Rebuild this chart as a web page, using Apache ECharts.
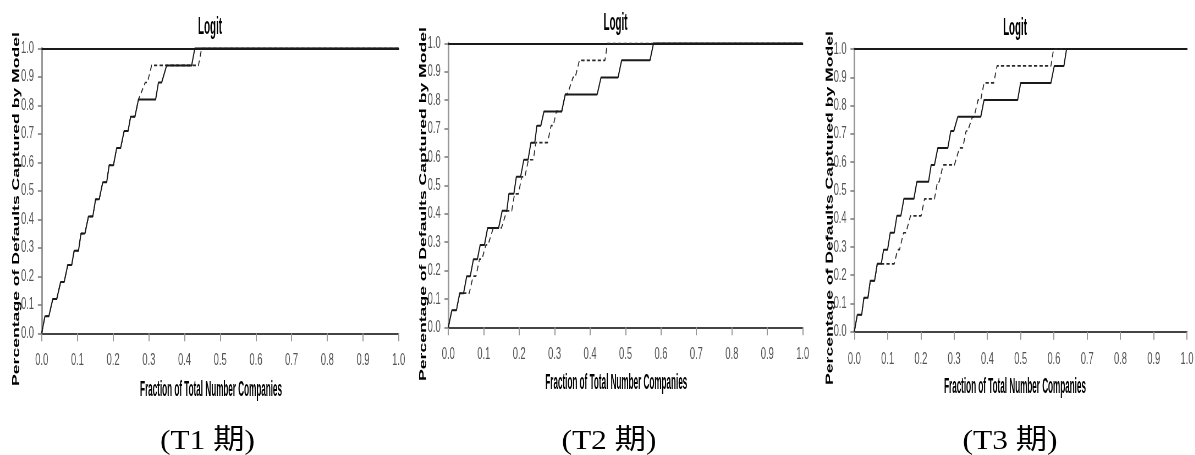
<!DOCTYPE html>
<html>
<head>
<meta charset="utf-8">
<script src="https://cdn.jsdelivr.net/npm/echarts@6/dist/echarts.min.js"></script>
<style>
  html, body { margin: 0; padding: 0; background: #fff; overflow: hidden; width: 1195px; height: 455px; }
  /* The panels are laid out on a wide canvas and squeezed horizontally, like a narrowed spreadsheet chart */
  #chart { width: 2173px; height: 455px; transform: scaleX(0.55); transform-origin: 0 0; }
</style>
</head>
<body>
<div id="chart"></div>
<script>
// Horizontal squeeze applied to the canvas (see CSS)
const SQUEEZE = 0.55;

const tickLabels = ['0.0', '0.1', '0.2', '0.3', '0.4', '0.5', '0.6', '0.7', '0.8', '0.9', '1.0'];
const panelTitles = ['Logit', 'Logit', 'Logit'];
const periodCaptions = ['(T1 期)', '(T2 期)', '(T3 期)'];
const xAxisTitle = 'Fraction of Total Number Companies';
const yAxisTitle = 'Percentage of Defaults Captured by Model';

// Cumulative accuracy profiles: [fraction of companies, fraction of defaults captured]
const t1Solid = [[0,0],[0.009,0.06],[0.020,0.06],[0.031,0.12],[0.042,0.12],[0.053,0.18],[0.063,0.18],[0.073,0.24],[0.084,0.24],[0.091,0.29],[0.103,0.29],[0.110,0.35],[0.121,0.35],[0.131,0.41],[0.143,0.41],[0.151,0.47],[0.161,0.47],[0.171,0.53],[0.182,0.53],[0.189,0.59],[0.201,0.59],[0.210,0.65],[0.221,0.65],[0.231,0.71],[0.242,0.71],[0.249,0.76],[0.261,0.76],[0.271,0.82],[0.319,0.82],[0.327,0.88],[0.336,0.88],[0.350,0.94],[0.420,0.94],[0.429,1.0],[1,1.0]];
const t1Dashed = [[0,0],[0.009,0.06],[0.020,0.06],[0.031,0.12],[0.042,0.12],[0.053,0.18],[0.063,0.18],[0.073,0.24],[0.084,0.24],[0.091,0.29],[0.103,0.29],[0.110,0.35],[0.121,0.35],[0.131,0.41],[0.143,0.41],[0.151,0.47],[0.161,0.47],[0.171,0.53],[0.182,0.53],[0.189,0.59],[0.201,0.59],[0.210,0.65],[0.221,0.65],[0.231,0.71],[0.242,0.71],[0.249,0.76],[0.261,0.76],[0.271,0.82],[0.290,0.88],[0.296,0.88],[0.308,0.94],[0.439,0.94],[0.448,1.0],[1,1.0]];

const t2Solid = [[0,0],[0.010,0.06],[0.023,0.06],[0.032,0.12],[0.043,0.12],[0.052,0.18],[0.062,0.18],[0.071,0.24],[0.082,0.24],[0.090,0.29],[0.102,0.29],[0.111,0.35],[0.142,0.35],[0.152,0.41],[0.165,0.41],[0.171,0.47],[0.185,0.47],[0.192,0.53],[0.204,0.53],[0.213,0.59],[0.225,0.59],[0.233,0.65],[0.244,0.65],[0.250,0.71],[0.261,0.71],[0.270,0.76],[0.320,0.76],[0.330,0.82],[0.420,0.82],[0.431,0.88],[0.479,0.88],[0.489,0.94],[0.569,0.94],[0.579,1.0],[1,1.0]];
const t2Dashed = [[0,0],[0.010,0.06],[0.022,0.06],[0.033,0.12],[0.059,0.12],[0.070,0.18],[0.078,0.18],[0.088,0.24],[0.095,0.24],[0.106,0.29],[0.112,0.29],[0.127,0.35],[0.150,0.35],[0.165,0.41],[0.179,0.41],[0.187,0.47],[0.198,0.47],[0.207,0.53],[0.216,0.53],[0.226,0.59],[0.240,0.59],[0.247,0.65],[0.280,0.65],[0.290,0.71],[0.296,0.71],[0.305,0.76],[0.320,0.76],[0.330,0.82],[0.336,0.82],[0.352,0.88],[0.358,0.88],[0.370,0.94],[0.442,0.94],[0.449,1.0],[1,1.0]];

const t3Solid = [[0,0],[0.009,0.06],[0.022,0.06],[0.029,0.12],[0.041,0.12],[0.048,0.18],[0.061,0.18],[0.069,0.24],[0.081,0.24],[0.088,0.29],[0.100,0.29],[0.108,0.35],[0.120,0.35],[0.128,0.41],[0.140,0.41],[0.149,0.47],[0.179,0.47],[0.188,0.53],[0.223,0.53],[0.231,0.59],[0.241,0.59],[0.251,0.65],[0.281,0.65],[0.290,0.71],[0.299,0.71],[0.311,0.76],[0.380,0.76],[0.390,0.82],[0.491,0.82],[0.500,0.88],[0.591,0.88],[0.601,0.94],[0.630,0.94],[0.638,1.0],[1,1.0]];
const t3Dashed = [[0,0],[0.009,0.06],[0.022,0.06],[0.029,0.12],[0.041,0.12],[0.048,0.18],[0.061,0.18],[0.069,0.24],[0.120,0.24],[0.130,0.29],[0.136,0.29],[0.148,0.35],[0.155,0.35],[0.169,0.41],[0.201,0.41],[0.211,0.47],[0.241,0.47],[0.250,0.53],[0.255,0.53],[0.267,0.59],[0.301,0.59],[0.316,0.65],[0.326,0.65],[0.336,0.71],[0.341,0.71],[0.355,0.76],[0.360,0.76],[0.372,0.82],[0.380,0.82],[0.390,0.88],[0.419,0.88],[0.429,0.94],[0.591,0.94],[0.599,1.0],[1,1.0]];

const panels = [
  { solid: t1Solid, dashed: t1Dashed },
  { solid: t2Solid, dashed: t2Dashed },
  { solid: t3Solid, dashed: t3Dashed }
];

// Layout (screen pixels, converted to canvas units below)
const gridBoxes = [
  { left: 41.7,  top: 48.3, width: 357.0, height: 285.0 },
  { left: 448.3, top: 43.3, width: 354.4, height: 284.0 },
  { left: 854.3, top: 49.0, width: 339.7, height: 282.7 }
];
const titlePos   = [[210, 27], [615.5, 23.5], [1015, 28]];
const xNamePos   = [[211, 390], [616.3, 383], [1015, 387.5]];
const yNamePos   = [[16.5, 209], [423.5, 204], [830, 208]];
const captionPos = [[207.5, 442], [609, 442], [1010, 442]];

const sx = v => v / SQUEEZE;
const labelOf = v => tickLabels[Math.round(v * 10)];
const sansFont = '"Liberation Sans", Arial, sans-serif';

const grid = [], xAxis = [], yAxis = [], series = [], graphic = [];

gridBoxes.forEach((b, i) => {
  grid.push({ left: sx(b.left), top: b.top, width: sx(b.width), height: b.height, containLabel: false });

  xAxis.push({
    type: 'value', gridIndex: i, min: 0, max: 1, interval: 0.1, position: 'bottom',
    axisLine: { show: true, onZero: false, lineStyle: { color: '#444', width: 2 } },
    axisTick: { show: true, inside: false, length: 8, lineStyle: { color: '#999', width: 2 } },
    axisLabel: { show: true, margin: 19, color: '#555', fontSize: 17, fontFamily: sansFont, formatter: labelOf },
    splitLine: { show: false }
  });
  // top rule of the plot at 100 %
  xAxis.push({
    type: 'value', gridIndex: i, min: 0, max: 1, position: 'top',
    axisLine: { show: true, onZero: false, lineStyle: { color: '#1a1a1a', width: 2 } },
    axisTick: { show: false }, axisLabel: { show: false }, splitLine: { show: false }
  });

  yAxis.push({
    type: 'value', gridIndex: i, min: 0, max: 1, interval: 0.1,
    axisLine: { show: true, onZero: false, lineStyle: { color: '#999', width: 3 } },
    axisTick: { show: true, length: 7, lineStyle: { color: '#777', width: 1.5 } },
    axisLabel: { show: true, margin: 14, color: '#555', fontSize: 17, fontFamily: sansFont, formatter: labelOf },
    splitLine: { show: false }
  });

  series.push({
    name: 'T' + (i + 1) + ' CAP B', type: 'line', xAxisIndex: i * 2, yAxisIndex: i,
    data: panels[i].dashed, symbol: 'none', showSymbol: false, z: 2, silent: true,
    lineStyle: { color: '#2a2a2a', width: 1.7, type: [6, 4] }
  });
  series.push({
    name: 'T' + (i + 1) + ' CAP A', type: 'line', xAxisIndex: i * 2, yAxisIndex: i,
    data: panels[i].solid, symbol: 'none', showSymbol: false, z: 3, silent: true,
    lineStyle: { color: '#1a1a1a', width: 2, type: 'solid' }
  });

  graphic.push({
    type: 'text', x: sx(titlePos[i][0]), y: titlePos[i][1], scaleX: 0.85, scaleY: 1.15,
    style: { text: panelTitles[i], fill: '#000', fontSize: 21, fontWeight: 'bold', fontFamily: sansFont,
             align: 'center', verticalAlign: 'middle', textAlign: 'center', textVerticalAlign: 'middle' }
  });
  graphic.push({
    type: 'text', x: sx(xNamePos[i][0]), y: xNamePos[i][1], scaleX: 0.82, scaleY: 1.2,
    style: { text: xAxisTitle, fill: '#000', fontSize: 18, fontWeight: 'bold', fontFamily: sansFont,
             align: 'center', verticalAlign: 'middle', textAlign: 'center', textVerticalAlign: 'middle' }
  });
  graphic.push({
    type: 'text', x: sx(yNamePos[i][0]), y: yNamePos[i][1], rotation: Math.PI / 2,
    style: { text: yAxisTitle, fill: '#000', fontSize: 17.6, fontWeight: 'bold', fontFamily: sansFont,
             align: 'center', verticalAlign: 'middle', textAlign: 'center', textVerticalAlign: 'middle' }
  });
  // period captions are set at normal width, so undo the squeeze
  graphic.push({
    type: 'text', x: sx(captionPos[i][0]), y: captionPos[i][1], scaleX: 1.12 / SQUEEZE,
    style: { text: periodCaptions[i], fill: '#000', fontSize: 28,
             fontFamily: '"Liberation Serif", "Times New Roman", "Noto Sans CJK TC", serif',
             align: 'center', verticalAlign: 'middle', textAlign: 'center', textVerticalAlign: 'middle' }
  });
});

const chart = echarts.init(document.getElementById('chart'), null, { renderer: 'canvas' });
chart.setOption({
  animation: false,
  backgroundColor: '#fff',
  grid, xAxis, yAxis, series, graphic
});
</script>
</body>
</html>
